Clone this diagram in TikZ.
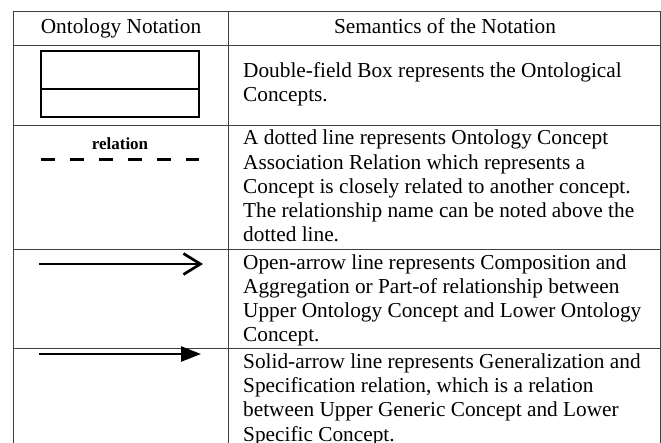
\documentclass[tikz,border=0pt]{standalone}
\usepackage{fontspec}
\setmainfont{Liberation Serif}
\usetikzlibrary{arrows.meta}

\begin{document}
\begin{tikzpicture}[x=1pt,y=-1pt,
  rule/.style={draw=black!75,line width=0.9pt},
  head/.style={font=\fontsize{21.3}{24.3}\selectfont,anchor=base,inner sep=0pt},
  desc/.style={font=\fontsize{21.3}{24.3}\selectfont,align=left,
    anchor=base west,inner sep=0pt},
  sym/.style={line width=2.7pt}
  ]
  \clip (0,0) rectangle (661,443);
  \fill[white] (0,0) rectangle (661,443);

  % table rules
  \draw[rule] (13,11) -- (660,11);
  \draw[rule] (13,45) -- (660,45);
  \draw[rule] (13,125) -- (660,125);
  \draw[rule] (13,249) -- (660,249);
  \draw[rule] (13,348) -- (660,348);
  \draw[rule] (13,11) -- (13,443);
  \draw[rule] (228,11) -- (228,443);
  \draw[rule] (660,11) -- (660,443);

  \node[head] (1head) at (121,34) {Ontology Notation};
  \node[head] (2head) at (445,34) {Semantics of the Notation};

  % double-field box
  \draw[line width=2.3pt] (41,51) rectangle (199,117);
  \draw[line width=2.3pt] (41,89) -- (199,89);

  % association relation
  \coordinate (2a) at (41,160);
  \coordinate (2b) at (199,160);
  \draw[line width=3pt,dash pattern=on 14pt off 15pt] (2a) -- (2b);
  \node[font=\fontsize{17}{20}\selectfont\bfseries,anchor=base,inner sep=0pt]
    (2lab) at (120,150) {relation};

  % open arrow
  \coordinate (3a) at (39,264);
  \coordinate (3b) at (203,264);
  \draw[sym,-{Straight Barb[length=17pt,width=21pt,line width=2.7pt]}] (3a) -- (3b);

  % solid arrow
  \coordinate (4a) at (39,354);
  \coordinate (4b) at (201,354);
  \draw[sym,-{Triangle[length=20pt,width=15pt]}] (4a) -- (4b);

  % base anchor sits on the last line
  \node[desc] (1desc) at (243,102)
    {Double-field Box represents the Ontological\\Concepts.};
  \node[desc] (2desc) at (243,242)
    {A dotted line represents Ontology Concept\\
     Association Relation which represents a\\
     Concept is closely related to another concept.\\
     The relationship name can be noted above the\\
     dotted line.};
  \node[desc] (3desc) at (243,342)
    {Open-arrow line represents Composition and\\
     Aggregation or Part-of relationship between\\
     Upper Ontology Concept and Lower Ontology\\
     Concept.};
  \node[desc] (4desc) at (243,441)
    {Solid-arrow line represents Generalization and\\
     Specification relation, which is a relation\\
     between Upper Generic Concept and Lower\\
     Specific Concept.};
\end{tikzpicture}
\end{document}
